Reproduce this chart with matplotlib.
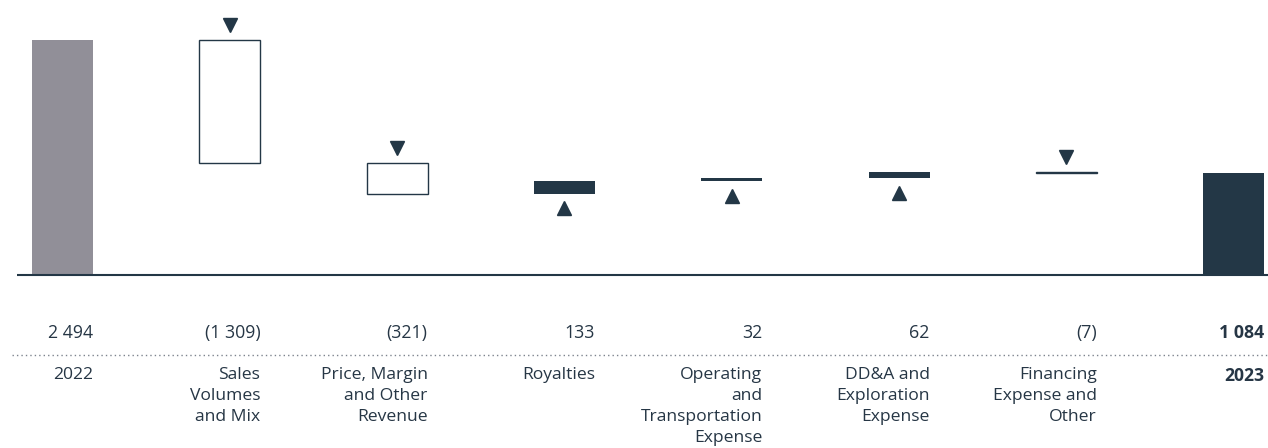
import matplotlib.pyplot as plt
from matplotlib.transforms import blended_transform_factory

plt.rcParams['font.family'] = ['Open Sans', 'DejaVu Sans']

# data (millions)
categories = ['2022', 'Sales\nVolumes\nand Mix', 'Price, Margin\nand Other\nRevenue',
              'Royalties', 'Operating\nand\nTransportation\nExpense',
              'DD&A and\nExploration\nExpense', 'Financing\nExpense and\nOther', '2023']
values = [2494, -1309, -321, 133, 32, 62, -7, 1084]
value_labels = ['2 494', '(1 309)', '(321)', '133', '32', '62', '(7)', '1 084']

navy = '#233746'
grey = '#918f98'
txt = '#263645'

fig = plt.figure(figsize=(12.68, 4.48), dpi=100)
ax = fig.add_axes([0, 0, 1, 1])
ax.set_xlim(-0.3736, 7.2053)
ax.set_ylim(-1836, 2919)
ax.axis('off')

w = 0.365
n = len(values)
running = 0
for i, v in enumerate(values):
    if i == 0:
        ax.bar(i, v, width=w, color=grey, linewidth=0)
        running = v
    elif i == n - 1:
        ax.bar(i, v, width=w, color=navy, linewidth=0)
    else:
        new = running + v
        lo, hi = min(running, new), max(running, new)
        if v < 0:
            ax.bar(i, hi - lo, bottom=lo, width=w, facecolor='white',
                   edgecolor=navy, linewidth=1.0)
            ax.plot(i, hi + 160, marker='v', color=navy, markersize=10.5, linestyle='none')
        else:
            ax.bar(i, hi - lo, bottom=lo, width=w, color=navy, linewidth=0)
            ax.plot(i, lo - 155, marker='^', color=navy, markersize=10.5, linestyle='none')
        running = new

# baseline
ax.plot([-0.2748, 7.2053], [0, 0], color=navy, linewidth=1.5, solid_capstyle='butt')

tr = blended_transform_factory(ax.transData, ax.transAxes)
ax.plot([-0.3, 7.2053], [0.2076, 0.2076], transform=tr, color='#7d848e',
        linewidth=1.0, linestyle=(0, (1, 2.2)))

for i in range(n):
    xr = i + w / 2
    bold = 'bold' if i == n - 1 else 'normal'
    ax.text(xr, 0.2567, value_labels[i], transform=tr, ha='right', va='center',
            fontsize=12.8, color=txt, fontweight=bold)
    ax.text(xr, 0.180, categories[i], transform=tr, ha='right', va='top',
            fontsize=12.6, color=txt, fontweight=bold, linespacing=1.4,
            multialignment='right')

fig.savefig('out.png', dpi=100)
